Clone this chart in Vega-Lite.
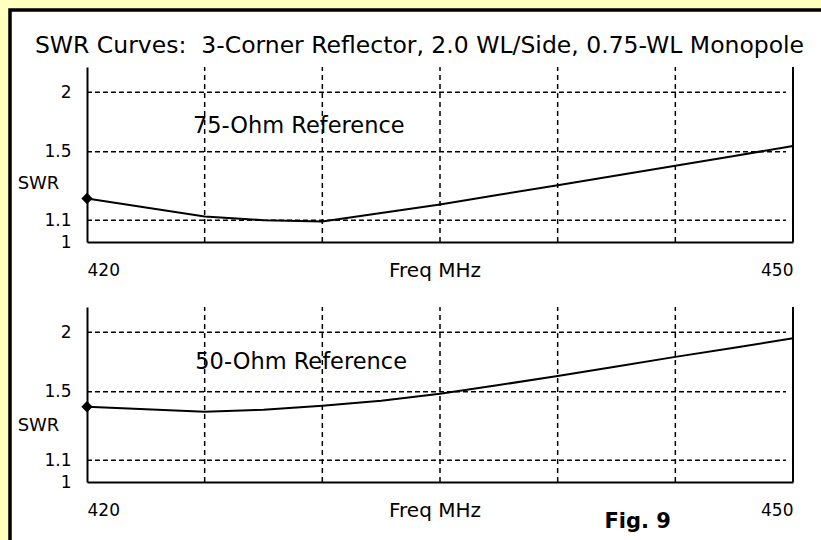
{
  "$schema": "https://vega.github.io/schema/vega-lite/v6.json",
  "autosize": {"type": "none"},
  "width": 813,
  "height": 532,
  "padding": {"left": 10, "top": 10, "right": -2, "bottom": -2},
  "background": "#FFFFC0",
  "config": {
    "view": {"fill": "white", "stroke": "black", "strokeWidth": 3.5},
    "font": "DejaVu Sans",
    "axis": {
      "domainColor": "black", "domainWidth": 2,
      "ticks": false, "tickSize": 0, "grid": false,
      "labelFont": "DejaVu Sans", "labelFontSize": 17, "labelColor": "black", "labelOverlap": false,
      "titleFont": "DejaVu Sans", "titleFontSize": 20, "titleFontWeight": "normal", "titleColor": "black"
    }
  },
  "title": {
    "text": "SWR Curves:\u00a0\u00a03-Corner Reflector, 2.0 WL/Side, 0.75-WL Monopole",
    "font": "DejaVu Sans", "fontSize": 23.5, "fontWeight": "normal", "color": "black",
    "anchor": "middle", "frame": "group", "offset": -47, "dx": 3
  },
  "datasets": {
    "ohm75": [
      {"f": 420, "swr": 1.211}, {"f": 422.5, "swr": 1.163}, {"f": 425, "swr": 1.118},
      {"f": 427.5, "swr": 1.100}, {"f": 430, "swr": 1.093}, {"f": 432.5, "swr": 1.135},
      {"f": 435, "swr": 1.179}, {"f": 437.5, "swr": 1.232}, {"f": 440, "swr": 1.286},
      {"f": 442.5, "swr": 1.345}, {"f": 445, "swr": 1.406}, {"f": 447.5, "swr": 1.472},
      {"f": 450, "swr": 1.542}
    ],
    "ohm50": [
      {"f": 420, "swr": 1.400}, {"f": 422.5, "swr": 1.384}, {"f": 425, "swr": 1.368},
      {"f": 427.5, "swr": 1.380}, {"f": 430, "swr": 1.406}, {"f": 432.5, "swr": 1.439},
      {"f": 435, "swr": 1.486}, {"f": 437.5, "swr": 1.549}, {"f": 440, "swr": 1.616},
      {"f": 442.5, "swr": 1.691}, {"f": 445, "swr": 1.772}, {"f": 447.5, "swr": 1.853},
      {"f": 450, "swr": 1.941}
    ],
    "vgrid": [{"f": 425}, {"f": 430}, {"f": 435}, {"f": 440}, {"f": 445}],
    "hgrid": [{"swr": 1.1}, {"swr": 1.5}, {"swr": 2}],
    "edge": [{"f": 450}]
  },
  "layer": [
    {
      "layer": [
        {
          "data": {"name": "vgrid"},
          "mark": {"type": "rule", "color": "black", "strokeWidth": 1.5, "strokeDash": [5, 4]},
          "encoding": {
            "x": {"field": "f", "type": "quantitative"},
            "y": {"datum": 1, "type": "quantitative"},
            "y2": {"datum": 2.27}
          }
        },
        {
          "data": {"name": "hgrid"},
          "mark": {"type": "rule", "color": "black", "strokeWidth": 1.5, "strokeDash": [5, 3]},
          "encoding": {
            "x": {"datum": 420, "type": "quantitative"},
            "x2": {"datum": 449.7},
            "y": {"field": "swr", "type": "quantitative"}
          }
        },
        {
          "data": {"name": "ohm75"},
          "mark": {"type": "line", "color": "black", "strokeWidth": 2},
          "encoding": {
            "x": {
              "field": "f", "type": "quantitative",
              "scale": {"domain": [420, 450], "range": [77, 783], "nice": false, "zero": false},
              "axis": {
                "orient": "bottom", "offset": -300,
                "values": [420, 450],
                "labelFlush": true, "labelPadding": 28, "labelBaseline": "middle",
                "title": "Freq MHz", "titleX": 424.5, "titleY": 28, "titleBaseline": "middle", "titleAlign": "center"
              }
            },
            "y": {
              "field": "swr", "type": "quantitative",
              "scale": {"type": "pow", "exponent": -0.2, "domain": [1, 2.27], "range": [232, 57], "nice": false, "zero": false},
              "axis": {
                "orient": "left", "offset": -77,
                "values": [1, 1.1, 1.5, 2], "format": "~g",
                "labelPadding": 16, "labelBaseline": "middle",
                "title": "SWR", "titleFontSize": 18, "titleAngle": 0, "titleX": -49, "titleY": 173, "titleAlign": "center", "titleBaseline": "middle"
              }
            }
          }
        },
        {
          "data": {"name": "ohm75"},
          "transform": [{"filter": "datum.f == 420"}],
          "mark": {"type": "point", "shape": "diamond", "filled": true, "color": "black", "size": 130, "opacity": 1},
          "encoding": {
            "x": {"field": "f", "type": "quantitative"},
            "y": {"field": "swr", "type": "quantitative"}
          }
        },
        {
          "data": {"name": "edge"},
          "mark": {"type": "rule", "color": "black", "strokeWidth": 2},
          "encoding": {
            "x": {"field": "f", "type": "quantitative"},
            "y": {"datum": 1, "type": "quantitative"},
            "y2": {"datum": 2.27}
          }
        },
        {
          "data": {"values": [{"label": "75-Ohm Reference", "f": 429, "swr": 1.695}]},
          "mark": {"type": "text", "font": "DejaVu Sans", "fontSize": 22.5, "color": "black", "align": "center", "baseline": "middle"},
          "encoding": {
            "x": {"field": "f", "type": "quantitative"},
            "y": {"field": "swr", "type": "quantitative"},
            "text": {"field": "label"}
          }
        }
      ]
    },
    {
      "layer": [
        {
          "data": {"name": "vgrid"},
          "mark": {"type": "rule", "color": "black", "strokeWidth": 1.5, "strokeDash": [5, 4]},
          "encoding": {
            "x": {"field": "f", "type": "quantitative"},
            "y": {"datum": 1, "type": "quantitative"},
            "y2": {"datum": 2.27}
          }
        },
        {
          "data": {"name": "hgrid"},
          "mark": {"type": "rule", "color": "black", "strokeWidth": 1.5, "strokeDash": [5, 3]},
          "encoding": {
            "x": {"datum": 420, "type": "quantitative"},
            "x2": {"datum": 449.7},
            "y": {"field": "swr", "type": "quantitative"}
          }
        },
        {
          "data": {"name": "ohm50"},
          "mark": {"type": "line", "color": "black", "strokeWidth": 2},
          "encoding": {
            "x": {
              "field": "f", "type": "quantitative",
              "scale": {"domain": [420, 450], "range": [77, 783], "nice": false, "zero": false},
              "axis": {
                "orient": "bottom", "offset": -60,
                "values": [420, 450],
                "labelFlush": true, "labelPadding": 28, "labelBaseline": "middle",
                "title": "Freq MHz", "titleX": 424.5, "titleY": 28, "titleBaseline": "middle", "titleAlign": "center"
              }
            },
            "y": {
              "field": "swr", "type": "quantitative",
              "scale": {"type": "pow", "exponent": -0.2, "domain": [1, 2.27], "range": [472, 297], "nice": false, "zero": false},
              "axis": {
                "orient": "left", "offset": -77,
                "values": [1, 1.1, 1.5, 2], "format": "~g",
                "labelPadding": 16, "labelBaseline": "middle",
                "title": "SWR", "titleFontSize": 18, "titleAngle": 0, "titleX": -49, "titleY": 415, "titleAlign": "center", "titleBaseline": "middle"
              }
            }
          }
        },
        {
          "data": {"name": "ohm50"},
          "transform": [{"filter": "datum.f == 420"}],
          "mark": {"type": "point", "shape": "diamond", "filled": true, "color": "black", "size": 130, "opacity": 1},
          "encoding": {
            "x": {"field": "f", "type": "quantitative"},
            "y": {"field": "swr", "type": "quantitative"}
          }
        },
        {
          "data": {"name": "edge"},
          "mark": {"type": "rule", "color": "black", "strokeWidth": 2},
          "encoding": {
            "x": {"field": "f", "type": "quantitative"},
            "y": {"datum": 1, "type": "quantitative"},
            "y2": {"datum": 2.27}
          }
        },
        {
          "data": {"values": [{"label": "50-Ohm Reference", "f": 429.1, "swr": 1.727}]},
          "mark": {"type": "text", "font": "DejaVu Sans", "fontSize": 22.5, "color": "black", "align": "center", "baseline": "middle"},
          "encoding": {
            "x": {"field": "f", "type": "quantitative"},
            "y": {"field": "swr", "type": "quantitative"},
            "text": {"field": "label"}
          }
        },
        {
          "data": {"values": [{"label": "Fig. 9", "f": 443.4, "swr": 0.844}]},
          "mark": {"type": "text", "font": "DejaVu Sans", "fontSize": 21, "fontWeight": "bold", "color": "black", "align": "center", "baseline": "middle"},
          "encoding": {
            "x": {"field": "f", "type": "quantitative"},
            "y": {"field": "swr", "type": "quantitative"},
            "text": {"field": "label"}
          }
        }
      ]
    }
  ],
  "resolve": {
    "scale": {"x": "independent", "y": "independent"},
    "axis": {"x": "independent", "y": "independent"}
  }
}
